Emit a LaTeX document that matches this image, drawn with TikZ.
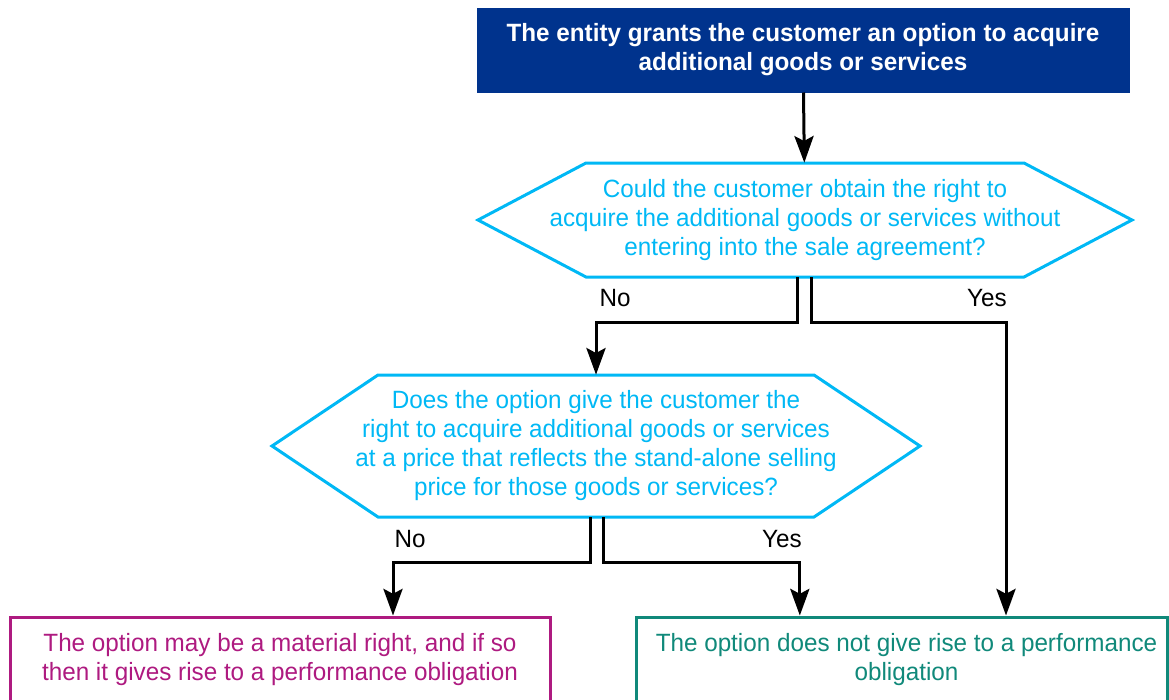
\documentclass[tikz,border=0pt]{standalone}
\usepackage{fontspec}
\setmainfont[FakeStretch=0.97]{Liberation Sans}
\usepackage{tikz}
\usetikzlibrary{arrows.meta,positioning,calc}
\definecolor{kblue}{HTML}{00338D}
\definecolor{kcyan}{HTML}{00B8F5}
\definecolor{kmag}{HTML}{AE1A80}
\definecolor{kteal}{HTML}{10897A}

\begin{document}
\begin{tikzpicture}[x=0.6pt,y=-0.6pt,
  box/.style={draw,line width=1.8pt,align=center,inner sep=0pt,font=\fontsize{15}{17.4}\selectfont},
  ques/.style={align=center,inner sep=0pt,text=kcyan,font=\fontsize{15}{17.4}\selectfont},
  hexline/.style={draw=kcyan,line width=1.8pt},
  arr/.style={-{Stealth[length=16pt,width=11.5pt,inset=3pt]},line width=1.8pt},
  lbl/.style={font=\fontsize{15}{16}\selectfont}
]
\useasboundingbox (0,0) rectangle (1169,699);
\node[box,draw=kblue,fill=kblue,text=white,font=\fontsize{15}{17.4}\selectfont\bfseries,
  minimum width=390pt,minimum height=49.2pt] (start) at (803,50)
  {The entity grants the customer an option to acquire\\additional goods or services};
\node[ques,minimum height=68.4pt] (q1) at (805,220)
  {Could the customer obtain the right to\\acquire the additional goods or services without\\entering into the sale agreement?};
\node[ques,minimum height=85.2pt] (q2) at (596,446)
  {Does the option give the customer the\\right to acquire additional goods or services\\at a price that reflects the stand-alone selling\\price for those goods or services?};
\node[box,draw=kmag,text=kmag,minimum width=324pt,minimum height=51.6pt] (mat) at (280,660)
  {The option may be a material right, and if so\\then it gives rise to a performance obligation};
\node[box,draw=kteal,text=kteal,minimum width=318.6pt,minimum height=51.6pt] (nopo) at (901.5,660)
  {\hspace*{6pt}The option does not give rise to a performance\\\hspace*{6pt}obligation};
% hexagon outlines
\draw[hexline] ($(q1)+(-219,-57)$) -- ($(q1)+(219,-57)$) -- ($(q1)+(327,0)$) -- ($(q1)+(219,57)$)
  -- ($(q1)+(-219,57)$) -- ($(q1)+(-327,0)$) -- cycle;
\draw[hexline] ($(q2)+(-218,-71)$) -- ($(q2)+(218,-71)$) -- ($(q2)+(324,0)$) -- ($(q2)+(218,71)$)
  -- ($(q2)+(-218,71)$) -- ($(q2)+(-324,0)$) -- cycle;
% connectors
\draw[arr] (start) -- (q1);
\draw[arr] ([xshift=-4.8pt]q1.south) -- ++(0,45) -| (q2.north);
\draw[arr] ([xshift=3.6pt]q1.south) -- ++(0,45) -| ([xshift=62.7pt]nopo.north);
\draw[arr] ([xshift=-3.6pt]q2.south) -- ++(0,45) -| ([xshift=67.8pt]mat.north);
\draw[arr] ([xshift=4.2pt]q2.south) -- ++(0,45) -| ([xshift=-61pt]nopo.north);
% labels
\node[lbl] (no1) at (615,298) {No};
\node[lbl] (yes1) at (987,298) {Yes};
\node[lbl] (no2) at (410,539) {No};
\node[lbl] (yes2) at (782,539) {Yes};
\end{tikzpicture}
\end{document}
